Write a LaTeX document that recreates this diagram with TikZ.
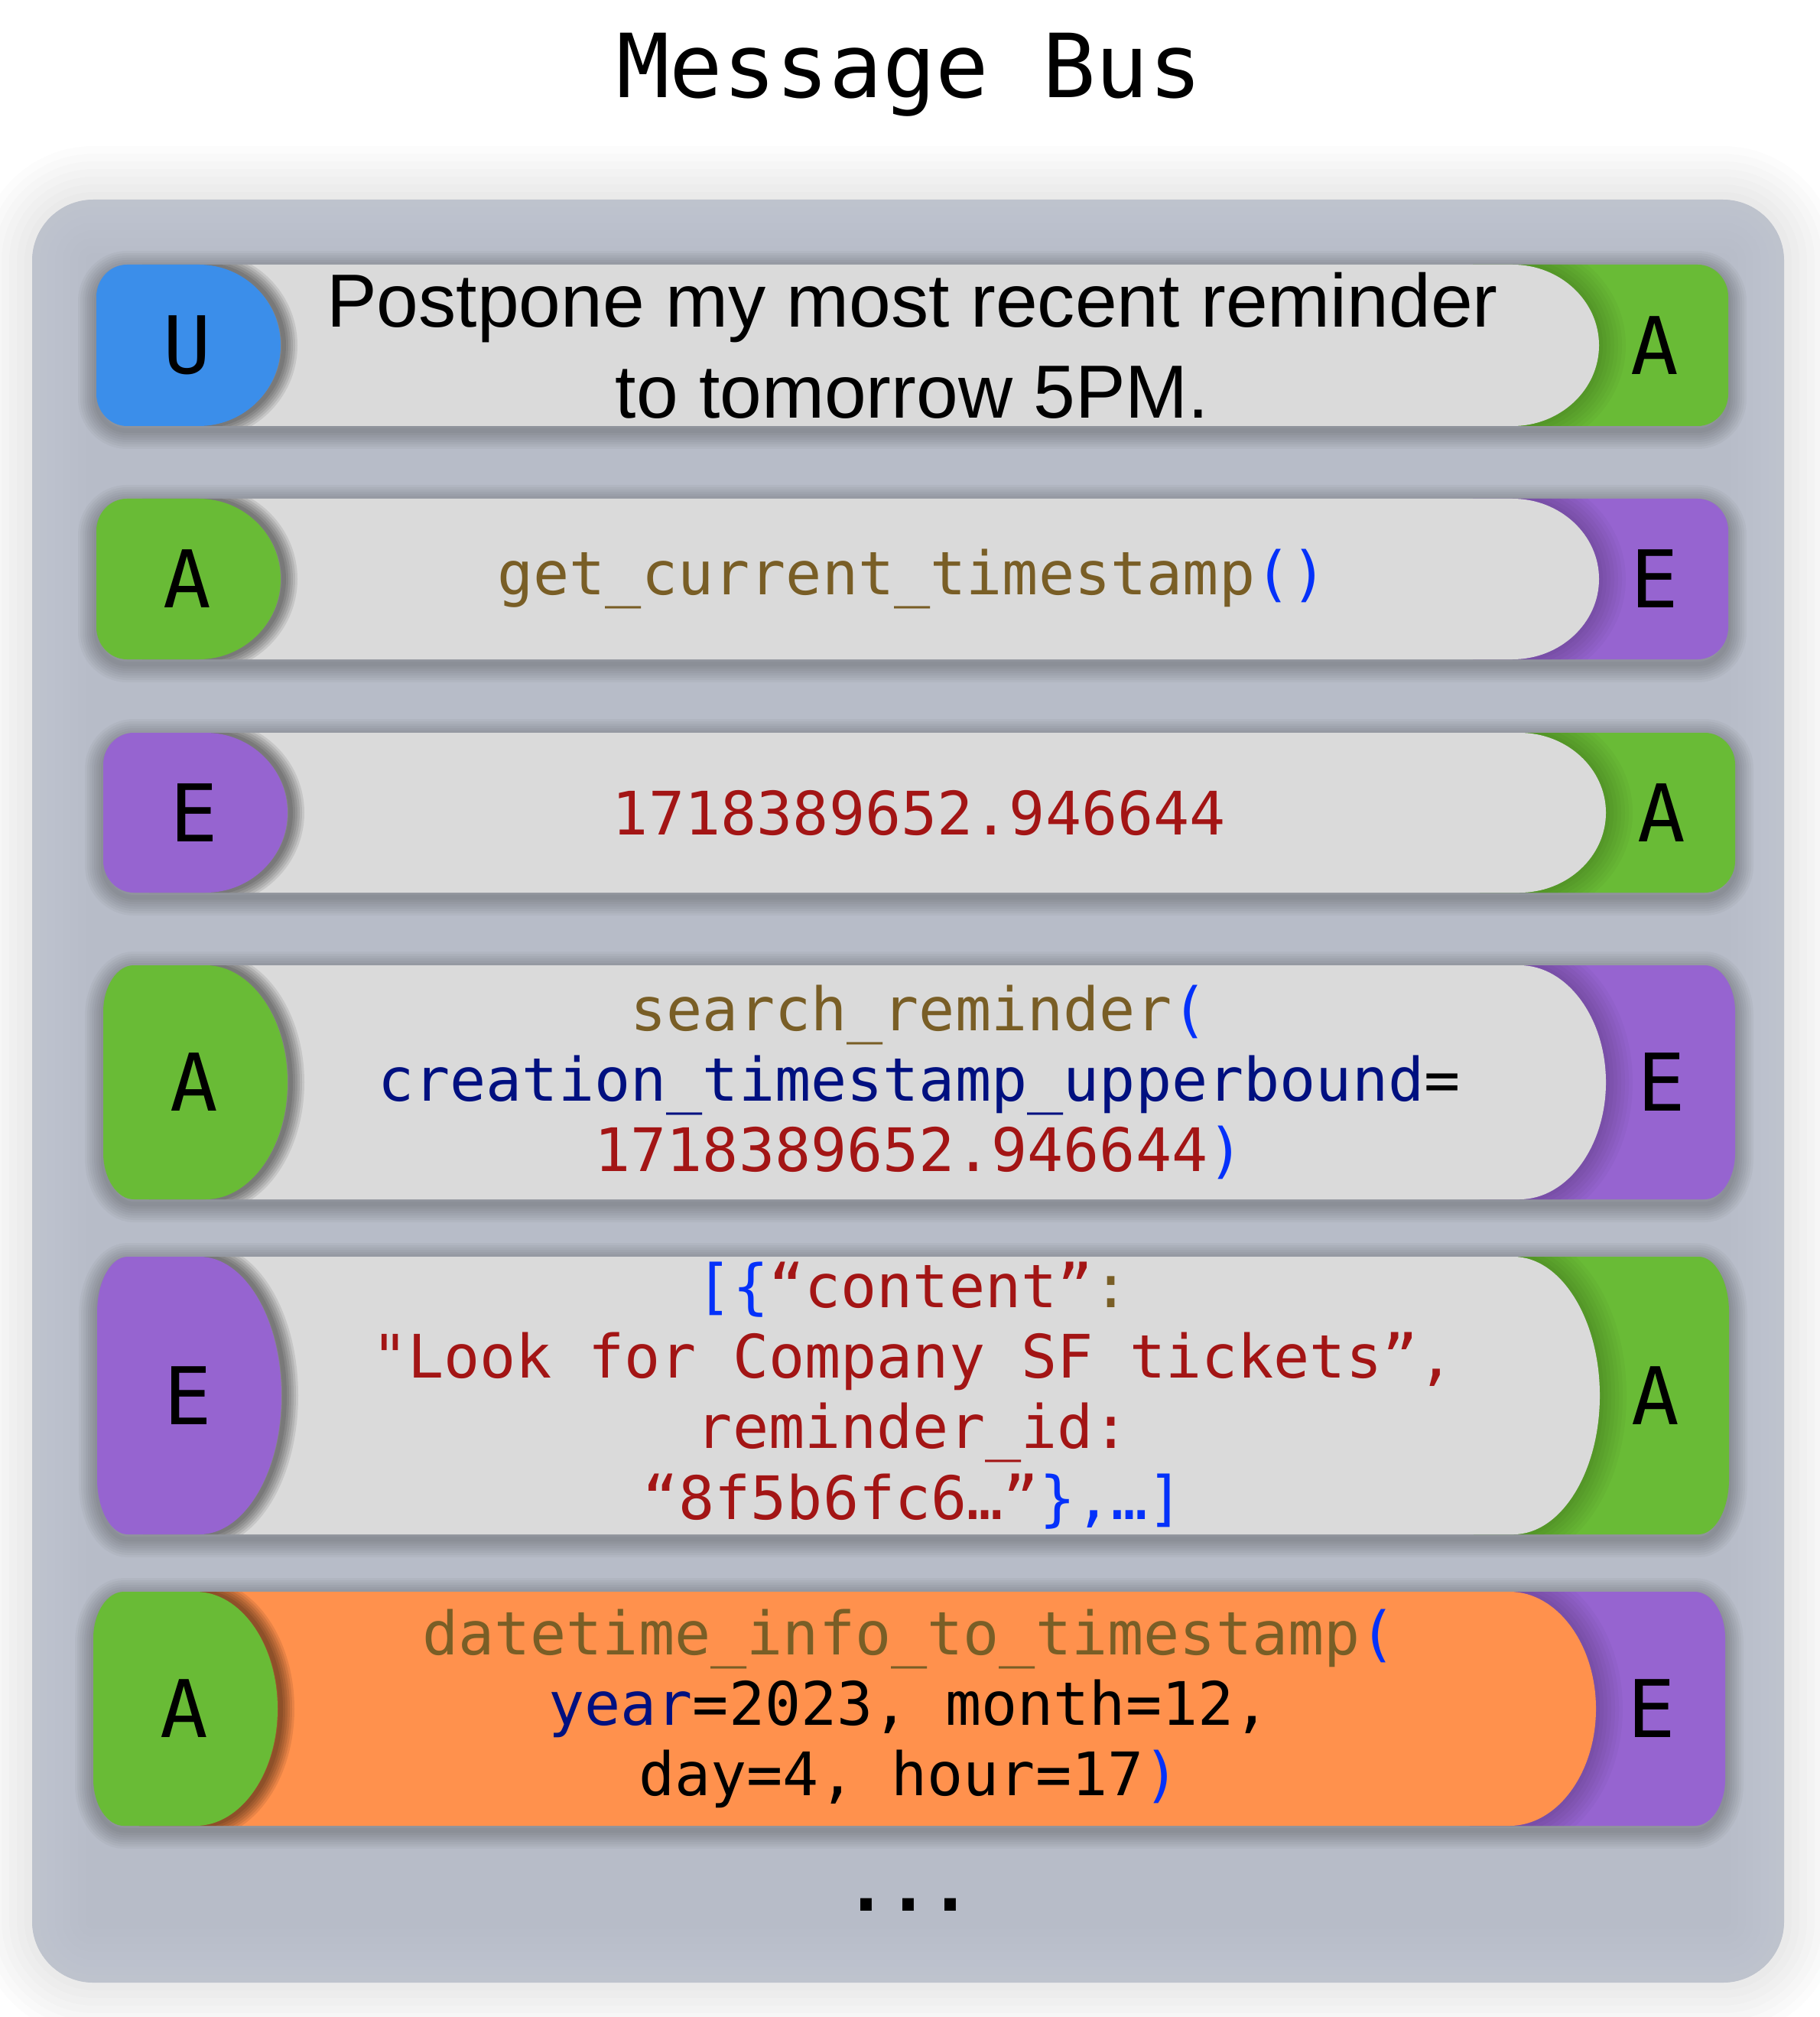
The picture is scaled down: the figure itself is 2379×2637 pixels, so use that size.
\documentclass[tikz,border=0pt]{standalone}
\usepackage{fontspec}
\usepackage{tikz}
\newfontfamily\codefont{DejaVu Sans Mono}
\newfontfamily\msgfont{Liberation Sans}
\definecolor{panelgray}{HTML}{B7BCC8}
\definecolor{bandgray}{HTML}{DADADA}
\definecolor{userblue}{HTML}{3B8EEA}
\definecolor{agentgreen}{HTML}{69BB36}
\definecolor{envpurple}{HTML}{9664D0}
\definecolor{callorange}{HTML}{FF914D}
\definecolor{fnbrown}{HTML}{795E26}
\definecolor{strred}{HTML}{A31515}
\definecolor{brblue}{HTML}{0431FA}
\definecolor{argnavy}{HTML}{001080}

\tikzset{
  codetext/.style={font=\codefont\fontsize{22.3}{26.2}\selectfont, align=center, inner sep=0pt},
  msgtext/.style={font=\msgfont\fontsize{28}{33.9}\selectfont, align=center, inner sep=0pt},
  capletter/.style={font=\codefont\fontsize{29.6}{32}\selectfont, inner sep=0pt},
  bustitle/.style={font=\codefont\fontsize{32.9}{36}\selectfont, inner sep=0pt, anchor=base},
  moredots/.style={font=\codefont\bfseries\fontsize{26}{30}\selectfont, inner sep=0pt, anchor=base},
}

\newcommand{\msgrow}[9]{%
  \pgfmathsetmacro{\rwL}{#2}
  \pgfmathsetmacro{\rwR}{#2+2134}
  \pgfmathsetmacro{\rwT}{#3}
  \pgfmathsetmacro{\rwB}{#3+#4}
  \pgfmathsetmacro{\rwM}{#3+#4/2}
  \pgfmathsetmacro{\rwH}{0.552*#4/2}
  \pgfmathsetmacro{\rwC}{0.2*#4}
  \pgfmathsetmacro{\rwK}{0.448*0.2*#4}
  \def\rowpath{({\rwL+40},\rwT) -- ({\rwR-40},\rwT) .. controls ({\rwR-18},\rwT) and (\rwR,{\rwT+\rwK}) .. (\rwR,{\rwT+\rwC}) -- (\rwR,{\rwB-\rwC}) .. controls (\rwR,{\rwB-\rwK}) and ({\rwR-18},\rwB) .. ({\rwR-40},\rwB) -- ({\rwL+40},\rwB) .. controls ({\rwL+18},\rwB) and (\rwL,{\rwB-\rwK}) .. (\rwL,{\rwB-\rwC}) -- (\rwL,{\rwT+\rwC}) .. controls (\rwL,{\rwT+\rwK}) and ({\rwL+18},\rwT) .. ({\rwL+40},\rwT) -- cycle}
  \def\capLpath{({\rwL+134},\rwT) -- ({\rwL+40},\rwT) .. controls ({\rwL+18},\rwT) and (\rwL,{\rwT+\rwK}) .. (\rwL,{\rwT+\rwC}) -- (\rwL,{\rwB-\rwC}) .. controls (\rwL,{\rwB-\rwK}) and ({\rwL+18},\rwB) .. ({\rwL+40},\rwB) -- ({\rwL+134},\rwB) .. controls ({\rwL+193},\rwB) and ({\rwL+241},{\rwM+\rwH}) .. ({\rwL+241},\rwM) .. controls ({\rwL+241},{\rwM-\rwH}) and ({\rwL+193},\rwT) .. ({\rwL+134},\rwT) -- cycle}
  \def\bandpath{({\rwL+60},\rwT) -- ({\rwL+1852},\rwT) .. controls ({\rwL+1914},\rwT) and ({\rwL+1965},{\rwM-\rwH}) .. ({\rwL+1965},\rwM) .. controls ({\rwL+1965},{\rwM+\rwH}) and ({\rwL+1914},\rwB) .. ({\rwL+1852},\rwB) -- ({\rwL+60},\rwB) -- cycle}
  \def\capRpath{({\rwL+1800},\rwT) -- ({\rwR-40},\rwT) .. controls ({\rwR-18},\rwT) and (\rwR,{\rwT+\rwK}) .. (\rwR,{\rwT+\rwC}) -- (\rwR,{\rwB-\rwC}) .. controls (\rwR,{\rwB-\rwK}) and ({\rwR-18},\rwB) .. ({\rwR-40},\rwB) -- ({\rwL+1800},\rwB) -- cycle}
  \foreach \w in {6,12,...,48} \draw[line width={\w*0.1mm}, black, opacity=.032, yshift=-0.6mm] \rowpath;
  \fill[#7] \capRpath;
  \begin{scope}
    \clip \capRpath;
    \foreach \w in {10,20,...,70} \draw[line width={\w*0.1mm}, black, opacity=.028] \bandpath;
  \end{scope}
  \fill[#9] \bandpath;
  \begin{scope}
    \clip \bandpath;
    \foreach \w in {6,12,...,36} \draw[line width={\w*0.1mm}, black, opacity=.09, xshift=0.4mm] \capLpath;
  \end{scope}
  \fill[#5] \capLpath;
  \node[capletter] (#1-l) at ({\rwL+119},\rwM) {#6};
  \node[capletter] (#1-r) at ({\rwL+2038},\rwM) {#8};
  \coordinate (#1) at ({\rwL+1067},\rwM);
}

\begin{document}
\begin{tikzpicture}[x=0.1mm,y=-0.1mm]
\useasboundingbox (0,0) rectangle (2379,2637);
\fill[white] (0,0) rectangle (2379,2637);
\foreach \w in {20,40,...,140} \draw[line width={\w*0.1mm}, black, opacity=.01, rounded corners=8mm] (42,261) rectangle (2333,2592);
\fill[panelgray, rounded corners=8mm] (42,261) rectangle (2333,2592);
\begin{scope}
\clip[rounded corners=8mm] (42,261) rectangle (2333,2592);
\foreach \w in {20,40,...,140} \draw[line width={\w*0.1mm}, white, opacity=.018, rounded corners=8mm] (42,261) rectangle (2333,2592);
\end{scope}
\node[bustitle] (title) at (1189,128) {Message Bus};

\msgrow{r1}{126}{346}{211}{userblue}{U}{agentgreen}{A}{bandgray}
\msgrow{r2}{126}{652}{210}{agentgreen}{A}{envpurple}{E}{bandgray}
\msgrow{r3}{135}{958}{209}{envpurple}{E}{agentgreen}{A}{bandgray}
\msgrow{r4}{135}{1262}{306}{agentgreen}{A}{envpurple}{E}{bandgray}
\msgrow{r5}{127}{1643}{363}{envpurple}{E}{agentgreen}{A}{bandgray}
\msgrow{r6}{122}{2081}{306}{agentgreen}{A}{envpurple}{E}{callorange}

\node[msgtext] (msg1) at (r1) {Postpone my most recent reminder\\to tomorrow 5PM.};
\node[codetext] (msg2) at (r2) {\textcolor{fnbrown}{get\_current\_timestamp}\textcolor{brblue}{()}};
\node[codetext] (msg3) at (r3) {\textcolor{strred}{1718389652.946644}};
\node[codetext] (msg4) at (r4) {\textcolor{fnbrown}{search\_reminder}\textcolor{brblue}{(}\\
\textcolor{argnavy}{creation\_timestamp\_upperbound}=\\
\textcolor{strred}{1718389652.946644}\textcolor{brblue}{)}};
\node[codetext] (msg5) at (r5) {\textcolor{brblue}{[\{}\textcolor{strred}{“content”}\textcolor{fnbrown}{:}\\
\textcolor{strred}{"Look for Company SF tickets”,}\\
\textcolor{strred}{reminder\_id:}\\
\textcolor{strred}{“8f5b6fc6…”}\textcolor{brblue}{\},…]}};
\node[codetext] (msg6) at (r6) {\textcolor{fnbrown}{datetime\_info\_to\_timestamp}\textcolor{brblue}{(}\\
\textcolor{argnavy}{year}=2023, month=12,\\
day=4, hour=17\textcolor{brblue}{)}};
\node[moredots] (more) at (1188,2498) {...};
\end{tikzpicture}
\end{document}
